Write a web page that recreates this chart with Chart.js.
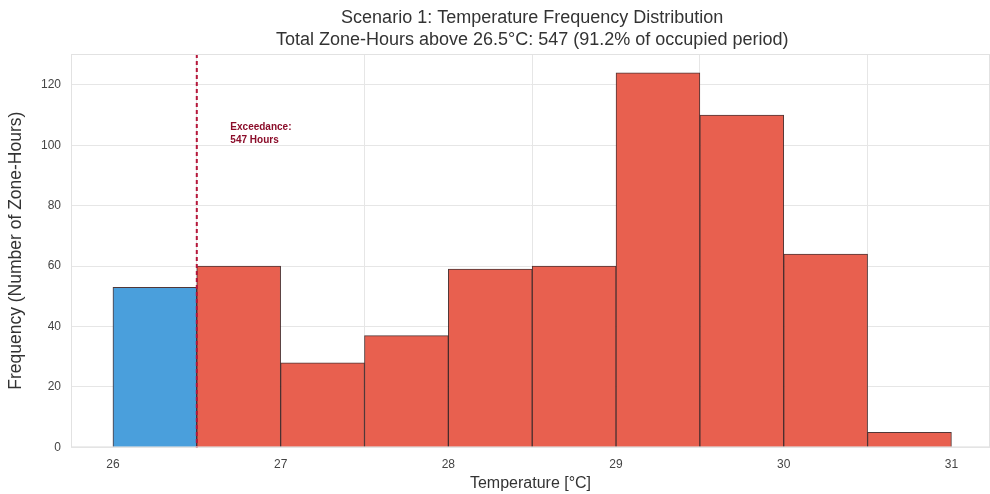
<!DOCTYPE html>
<html>
<head>
<meta charset="utf-8">
<script src="https://cdn.jsdelivr.net/npm/chart.js@4.4.0/dist/chart.umd.min.js"></script>
<style>
  html, body { margin: 0; padding: 0; background: #fff; }
  #wrap { width: 990px; height: 494px; }
</style>
</head>
<body>
<div id="wrap"><canvas id="chart" width="990" height="494"></canvas></div>
<script>
// Histogram bins (0.5 °C wide), bin centres and counts
const binCenters = [26.25, 26.75, 27.25, 27.75, 28.25, 28.75, 29.25, 29.75, 30.25, 30.75];
const binCounts = [53, 60, 28, 37, 59, 60, 124, 110, 64, 5];
const xTicks = [26, 27, 28, 29, 30, 31];
const yTicks = [0, 20, 40, 60, 80, 100, 120];
const threshold = 26.5;
const exceedHours = 547;
const titleLines = [
  "Scenario 1: Temperature Frequency Distribution",
  "Total Zone-Hours above 26.5°C: " + exceedHours + " (91.2% of occupied period)",
];

const RED = "#e8604f";
const BLUE = "#4a9fdc";
const FONT = "'Liberation Sans', Arial, sans-serif";

const barColors = binCenters.map((c) => c < threshold ? BLUE : RED);

// Title centred over the axes, dashed threshold line + annotation
const decorPlugin = {
  id: "decor",
  beforeDraw(chart) {
    const { ctx, chartArea } = chart;
    ctx.save();
    ctx.fillStyle = "#fff";
    ctx.fillRect(0, 0, chart.width, chart.height);
    ctx.fillStyle = "#333";
    ctx.font = "18px " + FONT;
    ctx.textAlign = "center";
    ctx.textBaseline = "middle";
    const cx = chart.scales.x.getPixelForValue(28.5);
    ctx.fillText(titleLines[0], cx, 18);
    ctx.fillText(titleLines[1], cx, 40);
    ctx.restore();
  },
  afterDatasetsDraw(chart) {
    const { ctx, chartArea, scales } = chart;
    const x = scales.x.getPixelForValue(threshold);
    ctx.save();
    ctx.strokeStyle = "#b5173a";
    ctx.lineWidth = 2;
    ctx.setLineDash([4, 3]);
    ctx.beginPath();
    ctx.moveTo(x, chartArea.top);
    ctx.lineTo(x, chartArea.bottom);
    ctx.stroke();
    ctx.setLineDash([]);
    ctx.fillStyle = "#8b0d2a";
    ctx.font = "bold 10px " + FONT;
    ctx.textBaseline = "middle";
    const tx = scales.x.getPixelForValue(threshold + 0.2);
    const ty = scales.y.getPixelForValue(104);
    ctx.fillText("Exceedance:", tx, ty - 6);
    ctx.fillText(exceedHours + " Hours", tx, ty + 7);
    ctx.restore();
  },
  afterDraw(chart) {
    const { ctx, chartArea } = chart;
    ctx.save();
    ctx.strokeStyle = "#e2e2e2";
    ctx.lineWidth = 1;
    ctx.strokeRect(chartArea.left + 0.5, chartArea.top + 0.5,
      chartArea.right - chartArea.left - 1, chartArea.bottom - chartArea.top - 1);
    ctx.restore();
  },
};

new Chart(document.getElementById("chart"), {
  type: "bar",
  data: {
    datasets: [{
      data: binCenters.map((c, i) => ({ x: c, y: binCounts[i] })),
      backgroundColor: barColors,
      borderColor: "rgba(50,20,20,0.85)",
      borderWidth: 1,
      barPercentage: 1,
      categoryPercentage: 1,
      grouped: false,
    }],
  },
  options: {
    responsive: false,
    animation: false,
    layout: { padding: { left: 6, right: 0, top: 54, bottom: 1 } },
    plugins: {
      legend: { display: false },
      tooltip: { enabled: false },
      title: { display: false },
    },
    scales: {
      x: {
        type: "linear",
        min: 25.75,
        max: 31.23, // right edge of the reference is cropped
        offset: false,
        afterBuildTicks(axis) { axis.ticks = xTicks.map((v) => ({ value: v })); },
        grid: { color: "#e6e6e6", drawTicks: false },
        border: { display: false },
        ticks: { color: "#444", font: { family: FONT, size: 12 }, padding: 10 },
        title: {
          display: true,
          text: "Temperature [°C]",
          color: "#333",
          font: { family: FONT, size: 16 },
          padding: { top: -8, bottom: 0 },
        },
      },
      y: {
        min: 0,
        max: 130.2,
        afterBuildTicks(axis) { axis.ticks = yTicks.map((v) => ({ value: v })); },
        grid: { color: "#e6e6e6", drawTicks: false },
        border: { display: false },
        ticks: { color: "#444", font: { family: FONT, size: 12 }, padding: 10 },
        title: {
          display: true,
          text: "Frequency (Number of Zone-Hours)",
          color: "#333",
          font: { family: FONT, size: 17.5 },
          padding: { top: 0, bottom: 4 },
        },
      },
    },
  },
  plugins: [decorPlugin],
});
</script>
</body>
</html>
